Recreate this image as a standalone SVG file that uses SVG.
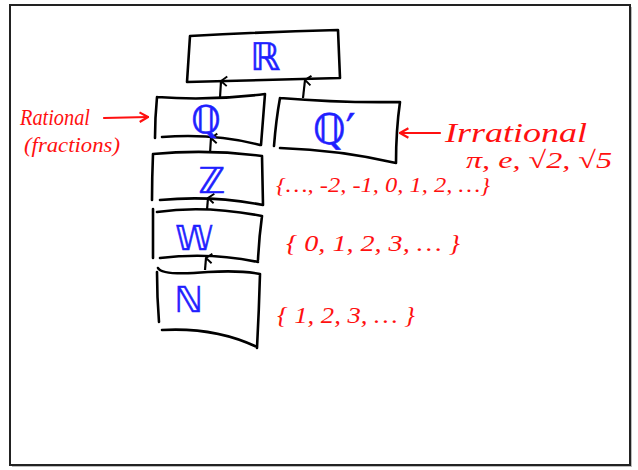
<svg xmlns="http://www.w3.org/2000/svg" width="638" height="470" viewBox="0 0 638 470">
<style>
.box{fill:none;stroke:#000;stroke-width:2.6;stroke-linecap:round;stroke-linejoin:round}
.sym{fill:#1f1fff;stroke:#1f1fff;stroke-width:0.6;font-family:"DejaVu Sans",sans-serif;text-anchor:middle}
.red{fill:#ff1010;font-family:"Liberation Serif",serif;font-style:italic}
.conn{fill:none;stroke:#000;stroke-width:2.2;marker-end:url(#ah)}
.rline{fill:none;stroke:#ff1010;stroke-width:2.2;stroke-linecap:round}
</style>
<defs>
<marker id="ah" viewBox="0 0 10 10" refX="5" refY="1" markerWidth="12" markerHeight="12" orient="auto-start-reverse" markerUnits="userSpaceOnUse">
<path d="M1,6 L5,1 L9,6" fill="none" stroke="#000" stroke-width="1.6"/>
</marker>
<marker id="rah" viewBox="0 0 10 10" refX="9" refY="5" markerWidth="12" markerHeight="12" orient="auto" markerUnits="userSpaceOnUse">
<path d="M2,1 L9,5 L2,9" fill="none" stroke="#ff1010" stroke-width="1.8"/>
</marker>
</defs>
<rect x="0" y="0" width="638" height="470" fill="#fff"/>
<rect x="12" y="7" width="620" height="460" fill="#bbb"/>
<rect x="10" y="5" width="620" height="460" fill="#fff" stroke="#222" stroke-width="2"/>

<g id="connectors">
<path class="conn" d="M220,98 L221,81"/>
<path class="conn" d="M303,98 L305,80"/>
<path class="conn" d="M210,153 L211,138"/>
<path class="conn" d="M207,210 L208,198"/>
<path class="conn" d="M205,270 L206,258"/>
</g>

<g id="node-R">
<path class="box" d="M190,36 Q260,32 338,30 L340,78 Q265,80 187,82 Z"/>
<text class="sym" x="265" y="70" font-size="38">ℝ</text>
</g>
<g id="node-Q">
<path class="box" d="M157,97 Q210,101 265,94 M265,94 Q263,120 261,145 M162,137 Q215,133 260,145 M157,97 Q155,118 155,138"/>
<text class="sym" x="206" y="133" font-size="38">ℚ</text>
</g>
<g id="node-Qp">
<path class="box" d="M280,98 Q340,103 400,102 M400,102 Q396,130 396,163 M280,148 Q340,150 396,163 M280,98 Q276,120 274,146"/>
<text class="sym" x="334" y="144" font-size="42">ℚ′</text>
</g>
<g id="node-Z">
<path class="box" d="M153,154 Q208,149 262,156 M262,156 L263,205 M160,200 Q212,195 263,205 M153,154 Q152,178 152,200"/>
<text class="sym" x="212" y="193" font-size="36">ℤ</text>
</g>
<g id="node-W">
<path class="box" d="M157,212 Q205,205 262,216 M262,216 Q259,238 258,260 M160,258 Q210,252 258,262 M153,209 L153,258"/>
<text class="sym" x="194" y="250" font-size="34">𝕎</text>
</g>
<g id="node-N">
<path class="box" d="M158,268 Q162,276 208,272 Q240,270 260,274 M260,274 Q259,310 257,348 M162,330 Q215,327 257,347 M157,272 Q157,297 159,322"/>
<text class="sym" x="189" y="312" font-size="36">ℕ</text>
</g>

<g id="labels">
<text class="red" x="20" y="125" font-size="24" textLength="70" lengthAdjust="spacingAndGlyphs">Rational</text>
<text class="red" x="24" y="152" font-size="21" textLength="96" lengthAdjust="spacingAndGlyphs">(fractions)</text>
<path class="rline" d="M104,118 L148,117" marker-end="url(#rah)"/>
<text class="red" x="445" y="142" font-size="28" textLength="142" lengthAdjust="spacingAndGlyphs">Irrational</text>
<path class="rline" d="M440,133 L400,133" marker-end="url(#rah)"/>
<text class="red" x="466" y="168" font-size="24" textLength="146" lengthAdjust="spacingAndGlyphs">π, e, √2, √5</text>
<text class="red" x="276" y="192" font-size="22" textLength="214" lengthAdjust="spacingAndGlyphs">{…, -2, -1, 0, 1, 2, …}</text>
<text class="red" x="286" y="251" font-size="24" textLength="174" lengthAdjust="spacingAndGlyphs">{ 0, 1, 2, 3, … }</text>
<text class="red" x="277" y="323" font-size="24" textLength="138" lengthAdjust="spacingAndGlyphs">{ 1, 2, 3, … }</text>
</g>
</svg>
